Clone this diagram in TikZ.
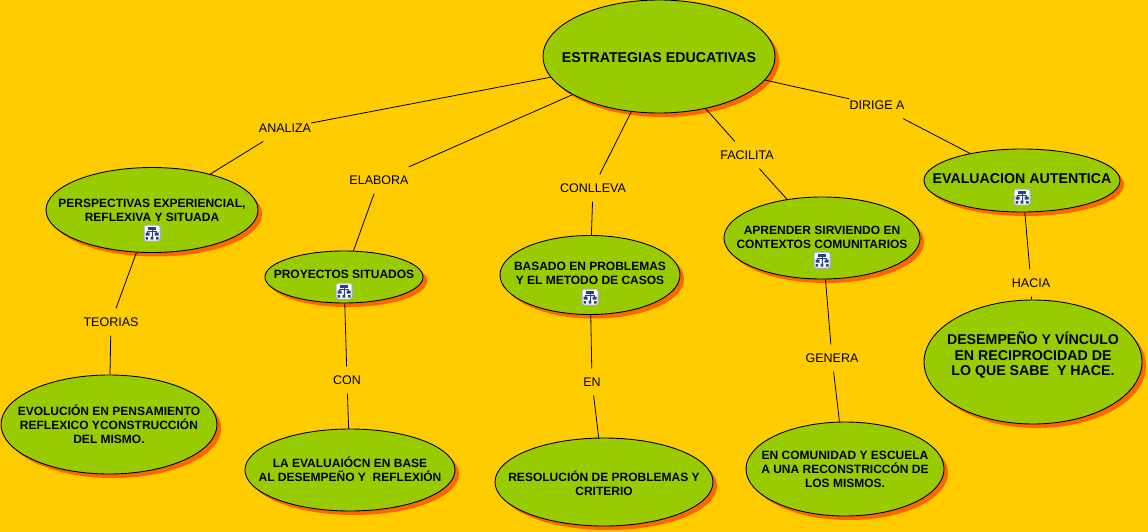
\documentclass[tikz,border=0pt]{standalone}
\usepackage{fontspec}
\setmainfont{Liberation Sans}
\usetikzlibrary{shapes.geometric,shadows}
\definecolor{mapback}{HTML}{FFCC00}
\definecolor{mapgreen}{HTML}{99CC00}
\definecolor{mapshadow}{HTML}{FF6600}
\definecolor{mapblue}{HTML}{27408B}
\tikzset{
	concept/.style={ellipse,draw=black,fill=mapgreen,line width=0.9pt,inner sep=-60pt,align=center,
		font=\fontsize{12}{14}\selectfont\bfseries,
		general shadow={shadow xshift=4pt,shadow yshift=-4pt,fill=mapshadow}},
	bigconcept/.style={concept,font=\fontsize{14.2}{15.5}\selectfont\bfseries},
	linkword/.style={font=\fontsize{12.5}{14}\selectfont,inner xsep=0pt,inner ysep=9pt},
	link/.style={draw=black,line width=0.8pt},
	mapicon/.pic={
		\draw[draw=mapblue!45,fill=white,rounded corners=1.5pt,line width=1pt] (-8,-8) rectangle (8,8);
		\draw[mapblue,line width=0.8pt] (0,-4) -- (0,4) (-4.5,0) -- (-4.5,-1.5) -- (4.5,-1.5) -- (4.5,0);
		\fill[mapblue] (-4,-6.5) rectangle (4,-3.5);
		\fill[mapblue] (-6.5,-0.5) rectangle (-2.5,2.5) (2.5,-0.5) rectangle (6.5,2.5);
		\fill[mapblue] (-6.5,4) rectangle (-4,6.5) (-1.3,3.5) rectangle (1.3,6.5) (4,4) rectangle (6.5,6.5);
	}
}
\begin{document}
\begin{tikzpicture}[x=1pt,y=-1pt]
	\fill[mapback] (0,0) rectangle (1148,532);
	\useasboundingbox (0,0) rectangle (1148,532);

	% Concepts
	\node[bigconcept,minimum width=232pt,minimum height=113pt,text height=12pt] (root) at (659,56.5) {ESTRATEGIAS EDUCATIVAS};
	\node[concept,minimum width=212pt,minimum height=85pt] (perspectivas) at (152,210) {PERSPECTIVAS EXPERIENCIAL,\\REFLEXIVA Y SITUADA};
	\node[concept,minimum width=158pt,minimum height=52pt,text depth=5.5pt] (proyectos) at (344,277) {PROYECTOS SITUADOS};
	\node[concept,minimum width=180pt,minimum height=79pt,text depth=4pt] (basado) at (590,275) {BASADO EN PROBLEMAS\\Y EL METODO DE CASOS};
	\node[concept,minimum width=196pt,minimum height=82pt,text depth=2pt] (aprender) at (822,238) {APRENDER SIRVIENDO EN\\CONTEXTOS COMUNITARIOS};
	\node[bigconcept,minimum width=196pt,minimum height=63pt,text depth=3.5pt] (evaluacion) at (1022,180.5) {EVALUACION AUTENTICA};
	\node[concept,minimum width=216pt,minimum height=99pt] (evolucion) at (109,424.5) {EVOLUCIÓN EN PENSAMIENTO\\REFLEXICO YCONSTRUCCIÓN\\DEL MISMO.};
	\node[concept,minimum width=210pt,minimum height=82pt,text depth=2pt] (evaluaion) at (350,470) {LA EVALUAIÓCN EN BASE\\AL DESEMPEÑO Y\ \ REFLEXIÓN};
	\node[concept,minimum width=218pt,minimum height=88pt,text height=27pt] (resolucion) at (604,482) {RESOLUCIÓN DE PROBLEMAS Y\\CRITERIO};
	\node[concept,minimum width=198pt,minimum height=94pt] (comunidad) at (845,469) {EN COMUNIDAD Y ESCUELA\\A UNA RECONSTRICCÓN DE\\LOS MISMOS.};
	\node[bigconcept,minimum width=218pt,minimum height=124pt,text depth=16pt] (desempeno) at (1033,362) {DESEMPEÑO Y VÍNCULO\\EN RECIPROCIDAD DE\\LO QUE SABE\ \ Y HACE.};

	% Map icons
	\pic at (152,233) {mapicon};
	\pic at (344,291) {mapicon};
	\pic at (590,297) {mapicon};
	\pic at (822,260) {mapicon};
	\pic at (1022,197) {mapicon};

	% Linking words
	\node[linkword] (analiza) at (285,128) {ANALIZA};
	\node[linkword] (elabora) at (379,180) {ELABORA};
	\node[linkword] (conlleva) at (593,188) {CONLLEVA};
	\node[linkword] (facilita) at (747,155) {FACILITA};
	\node[linkword] (dirige) at (877,105) {DIRIGE A};
	\node[linkword] (teorias) at (111,322) {TEORIAS};
	\node[linkword] (con) at (347,380) {CON};
	\node[linkword] (en) at (592,382) {EN};
	\node[linkword] (genera) at (832,358) {GENERA};
	\node[linkword] (hacia) at (1031,283) {HACIA};

	% Connectors
	\draw[link] (root) -- (analiza);
	\draw[link] (analiza) -- (perspectivas);
	\draw[link] (root) -- (elabora);
	\draw[link] (elabora) -- (proyectos);
	\draw[link] (root) -- (conlleva);
	\draw[link] (conlleva) -- (basado);
	\draw[link] (root) -- (facilita);
	\draw[link] (facilita) -- (aprender);
	\draw[link] (root) -- (dirige);
	\draw[link] (dirige) -- (evaluacion);
	\draw[link] (perspectivas) -- (teorias);
	\draw[link] (teorias) -- (evolucion);
	\draw[link] (proyectos) -- (con);
	\draw[link] (con) -- (evaluaion);
	\draw[link] (basado) -- (en);
	\draw[link] (en) -- (resolucion);
	\draw[link] (aprender) -- (genera);
	\draw[link] (genera) -- (comunidad);
	\draw[link] (evaluacion) -- (hacia);
	\draw[link] (hacia) -- (desempeno);
\end{tikzpicture}
\end{document}
